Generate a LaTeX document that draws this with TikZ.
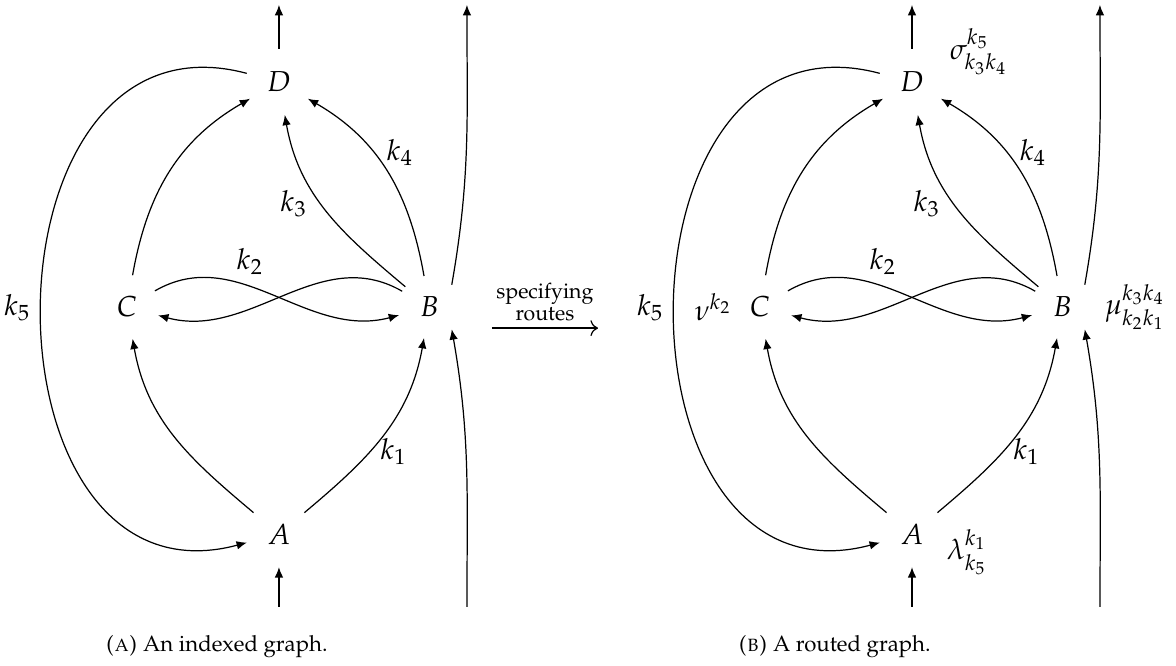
\documentclass[tikz,border=0pt]{standalone}
\usepackage[T1]{fontenc}
\usepackage{mathpazo}
\usepackage{amsmath}
\usetikzlibrary{arrows.meta, positioning}
\tikzset{
    vertex/.style={circle, inner sep=4pt, font=\fontsize{9.5}{12}\selectfont},
    edge/.style={-{Latex[length=3.4pt, width=2.8pt]}, thin},
    klabel/.style={font=\fontsize{9.5}{12}\selectfont},
    caplabel/.style={font=\fontsize{7.3}{9}\selectfont, anchor=base west, inner sep=0pt},
}

\begin{document}
\begin{tikzpicture}
    \useasboundingbox (-3.225,-1.526) rectangle (10.37,6.173);

    % (a) graphe indexe
    \node[vertex] (a1) at (0,0) {$A$};
    \node[vertex] (b1) at (1.74,2.624) {$B$};
    \node[vertex] (c1) at (-1.757,2.624) {$C$};
    \node[vertex] (d1) at (0,5.225) {$D$};
    \coordinate (ain1) at (0,-0.844);
    \coordinate (dout1) at (0,6.116);
    \coordinate (bin1) at (2.173,-0.844);
    \coordinate (bout1) at (2.173,6.116);

    \draw[edge] (ain1) -- (a1);
    \draw[edge] (d1) -- (dout1);
    \draw[edge] (bin1) to[out=90, in=-80] (b1.-45);
    \draw[edge] (b1.45) to[out=80, in=-90] (bout1);
    \draw[edge] (a1) to[out=140, in=-80] (c1);
    \draw[edge] (a1) to[out=40, in=-100] node[klabel, pos=0.4, right=0pt] {$k_1$} (b1);
    \draw[edge] (c1) to[out=80, in=210] (d1);
    \draw[edge] (b1) to[out=140, in=-80] node[klabel, pos=0.55, left=1pt] {$k_3$} (d1);
    \draw[edge] (b1) to[out=100, in=-30] node[klabel, pos=0.62, right=1pt] {$k_4$} (d1);
    \draw[edge] (c1) to[out=30, in=195] node[klabel, pos=0.4, above=0pt] {$k_2$} (b1);
    \draw[edge] (b1) to[out=150, in=-15] (c1);
    \draw[edge] (d1) to[out=165, in=195, looseness=1.55] node[klabel, left] {$k_5$} (a1);

    % fleche du milieu
    \coordinate (r1) at (2.462,2.38);
    \coordinate (r2) at (3.688,2.38);
    \draw[->] (r1) -- (r2) node[midway, above=1pt, align=center, font=\fontsize{7}{8.5}\selectfont, inner sep=1pt] {specifying\\[-1pt]routes};

    % (b) graphe route
    \begin{scope}[xshift=7.318cm]
    \node[vertex] (a2) at (0,0) {$A$};
    \node[vertex] (b2) at (1.74,2.624) {$B$};
    \node[vertex] (c2) at (-1.757,2.624) {$C$};
    \node[vertex] (d2) at (0,5.225) {$D$};
    \coordinate (ain2) at (0,-0.844);
    \coordinate (dout2) at (0,6.116);
    \coordinate (bin2) at (2.173,-0.844);
    \coordinate (bout2) at (2.173,6.116);

    \draw[edge] (ain2) -- (a2);
    \draw[edge] (d2) -- (dout2);
    \draw[edge] (bin2) to[out=90, in=-80] (b2.-45);
    \draw[edge] (b2.45) to[out=80, in=-90] (bout2);
    \draw[edge] (a2) to[out=140, in=-80] (c2);
    \draw[edge] (a2) to[out=40, in=-100] node[klabel, pos=0.4, right=0pt] {$k_1$} (b2);
    \draw[edge] (c2) to[out=80, in=210] (d2);
    \draw[edge] (b2) to[out=140, in=-80] node[klabel, pos=0.55, left=1pt] {$k_3$} (d2);
    \draw[edge] (b2) to[out=100, in=-30] node[klabel, pos=0.62, right=1pt] {$k_4$} (d2);
    \draw[edge] (c2) to[out=30, in=195] node[klabel, pos=0.4, above=0pt] {$k_2$} (b2);
    \draw[edge] (b2) to[out=150, in=-15] (c2);
    \draw[edge] (d2) to[out=165, in=195, looseness=1.55] node[klabel, left] {$k_5$} (a2);

    % routes
    \node[klabel, right=-3pt of a2, yshift=-6pt] (lam) {$\lambda^{k_1}_{k_5}$};
    \node[klabel, right=0pt of b2] (mu) {$\mu^{k_3k_4}_{k_2k_1}$};
    \node[klabel, left=-5pt of c2] (nu) {$\nu^{k_2}$};
    \node[klabel, right=-2pt of d2, yshift=10pt] (sig) {$\sigma^{k_5}_{k_3k_4}$};
    \end{scope}

    % legendes
    \node[caplabel] (capa) at (-2.01,-1.36) {\textsc{(a)} An indexed graph.};
    \node[caplabel] (capb) at (5.306,-1.36) {\textsc{(b)} A routed graph.};
\end{tikzpicture}
\end{document}
